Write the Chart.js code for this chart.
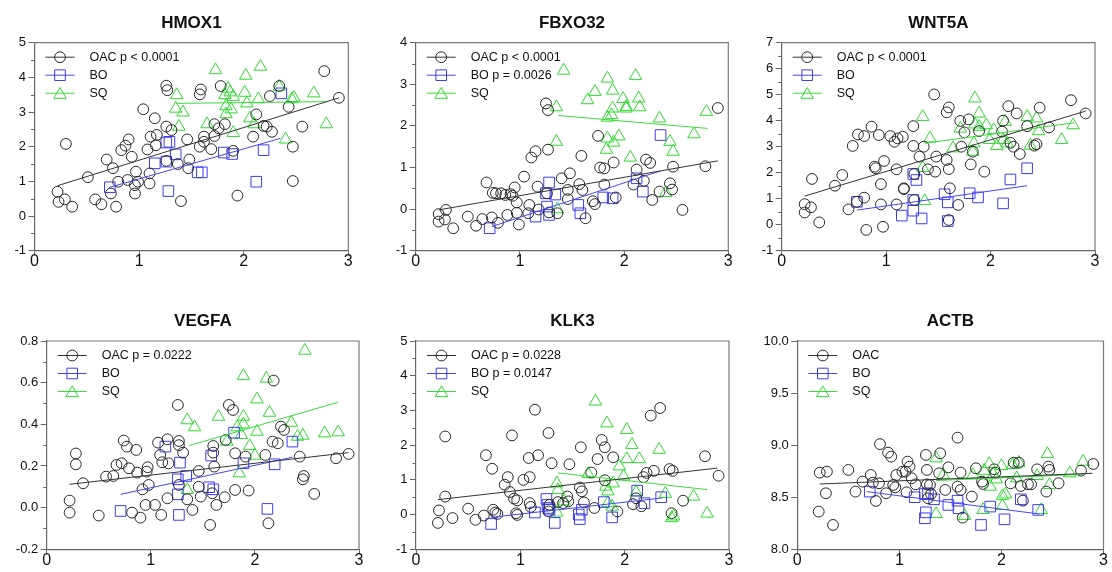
<!DOCTYPE html>
<html><head><meta charset="utf-8">
<script src="https://cdn.jsdelivr.net/npm/chart.js@4.4.1/dist/chart.umd.min.js"></script>
<style>
html,body{margin:0;padding:0;background:#fff;}
#wrap{position:relative;width:1112px;height:572px;overflow:hidden;background:#fff;}
canvas{position:absolute;}
</style></head><body><div id="wrap"></div>
<script>
// ---------------- DATA ----------------
const X_TICKS = [0, 1, 2, 3];
const GROUPS = ['OAC', 'BO', 'SQ'];

// HMOX1
const HMOX1_OAC = [[0.22,0.70],[0.23,0.41],[0.29,0.48],[0.30,2.08],[0.36,0.27],[0.51,1.12],[0.58,0.48],[0.64,0.34],[0.69,1.63],[0.73,0.65],[0.75,1.38],[0.78,0.27],[0.80,0.99],[0.83,1.90],[0.87,2.03],[0.90,2.21],[0.89,1.04],[0.93,1.71],[0.96,0.65],[0.96,0.89],[0.97,1.28],[0.99,0.99],[1.04,3.08],[1.08,1.92],[1.10,0.94],[1.11,2.29],[1.10,1.23],[1.15,2.82],[1.17,2.34],[1.16,2.04],[1.26,3.76],[1.27,3.63],[1.26,2.58],[1.26,1.59],[1.31,2.48],[1.37,1.50],[1.40,0.43],[1.46,2.21],[1.47,1.38],[1.48,1.63],[1.58,3.51],[1.59,3.65],[1.58,2.00],[1.62,2.14],[1.62,2.29],[1.69,1.93],[1.72,2.31],[1.72,2.65],[1.76,2.53],[1.78,3.75],[1.82,2.65],[1.90,1.88],[1.94,0.59],[2.09,2.29],[2.12,2.93],[2.19,2.60],[2.22,2.58],[2.25,3.46],[2.27,2.43],[2.34,3.75],[2.43,3.15],[2.47,1.01],[2.47,2.00],[2.56,2.58],[2.77,4.18],[2.91,3.41]];
const HMOX1_BO = [[0.72,0.83],[1.28,0.72],[1.26,2.12],[1.29,2.14],[1.26,1.57],[1.15,1.52],[1.35,1.78],[1.56,1.26],[1.60,1.26],[1.81,1.83],[1.89,1.79],[2.12,0.99],[2.19,1.90],[2.36,3.54]];
const HMOX1_SQ = [[1.73,4.21],[2.16,4.31],[2.02,4.05],[1.36,3.49],[1.35,3.10],[1.42,2.99],[1.38,2.58],[1.85,3.68],[1.87,3.57],[1.82,3.49],[2.01,3.56],[1.90,3.44],[2.03,3.25],[2.14,3.37],[1.83,3.17],[1.88,3.08],[1.83,2.94],[1.90,2.40],[1.65,2.65],[2.06,2.82],[2.10,2.65],[2.34,3.73],[2.46,3.37],[2.48,3.41],[2.67,3.54],[2.79,2.65],[2.40,2.21]];
const HMOX1_FITS = [[[0.22,0.875],[2.91,3.41]], [[0.71,0.82],[2.35,2.24]], [[1.36,3.25],[2.79,3.30]]];
const HMOX1_LEGEND = ['OAC p < 0.0001', 'BO', 'SQ'];
const HMOX1_YTICKS = [-1, 0, 1, 2, 3, 4, 5];

// FBXO32
const FBXO32_OAC = [[0.22,-0.12],[0.22,-0.30],[0.29,-0.02],[0.28,-0.25],[0.36,-0.46],[0.50,-0.18],[0.58,-0.40],[0.64,-0.24],[0.68,0.64],[0.74,0.39],[0.73,-0.20],[0.77,0.38],[0.79,-0.33],[0.82,0.38],[0.86,0.34],[0.88,-0.14],[0.91,0.36],[0.93,0.32],[0.95,0.52],[0.97,0.16],[0.99,-0.37],[0.97,-0.09],[1.04,0.78],[1.08,-0.10],[1.09,0.10],[1.11,1.24],[1.15,1.39],[1.17,0.54],[1.18,-0.01],[1.25,2.54],[1.27,2.38],[1.27,1.43],[1.26,0.38],[1.28,-0.08],[1.36,-0.10],[1.40,0.74],[1.48,0.86],[1.46,0.46],[1.46,0.24],[1.57,0.60],[1.59,1.28],[1.60,0.46],[1.63,-0.22],[1.70,0.19],[1.72,0.12],[1.75,1.76],[1.77,1.00],[1.81,0.98],[1.81,0.59],[1.90,1.12],[1.92,0.28],[2.09,0.59],[2.12,0.95],[2.19,0.68],[2.21,1.19],[2.25,1.11],[2.27,0.22],[2.34,0.42],[2.44,0.62],[2.46,0.47],[2.47,1.02],[2.56,-0.02],[2.78,1.03],[2.90,2.43]];
const FBXO32_BO = [[0.71,-0.46],[1.15,-0.18],[1.25,0.38],[1.26,0.06],[1.28,-0.14],[1.28,0.64],[1.34,0.35],[1.56,0.10],[1.58,-0.10],[1.80,0.28],[1.89,0.26],[2.12,0.74],[2.18,0.42],[2.35,1.78]];
const FBXO32_SQ = [[1.42,3.33],[1.35,2.45],[1.35,1.62],[1.36,0.00],[1.65,2.62],[1.72,2.82],[1.84,3.14],[1.89,2.85],[1.84,2.20],[1.89,2.42],[1.88,2.26],[1.84,1.70],[1.83,1.43],[1.90,1.60],[1.95,1.75],[1.99,2.65],[2.02,2.46],[2.02,2.42],[2.11,3.20],[2.14,2.66],[2.15,2.45],[2.06,1.24],[2.34,2.18],[2.44,1.62],[2.47,1.38],[2.40,0.39],[2.67,1.80],[2.79,2.34]];
const FBXO32_FITS = [[[0.22,-0.02],[2.90,1.16]], [[0.73,-0.42],[2.35,0.92]], [[1.37,2.25],[2.80,1.94]]];
const FBXO32_LEGEND = ['OAC p < 0.0001', 'BO p = 0.0026', 'SQ'];
const FBXO32_YTICKS = [-1, 0, 1, 2, 3, 4];

// WNT5A
const WNT5A_OAC = [[0.22,0.79],[0.22,0.47],[0.28,0.67],[0.29,1.76],[0.36,0.09],[0.51,1.50],[0.58,1.91],[0.64,0.59],[0.68,3.03],[0.72,0.88],[0.73,3.47],[0.79,1.04],[0.79,3.41],[0.81,-0.20],[0.86,3.77],[0.89,2.23],[0.90,2.17],[0.93,3.45],[0.95,1.56],[0.95,0.78],[0.98,2.45],[0.97,-0.08],[1.04,3.41],[1.08,3.19],[1.11,3.32],[1.16,3.38],[1.10,2.13],[1.10,0.78],[1.17,1.40],[1.17,1.37],[1.26,3.79],[1.26,3.03],[1.27,1.95],[1.27,0.95],[1.32,2.62],[1.36,3.00],[1.40,2.13],[1.47,2.04],[1.48,2.62],[1.46,5.01],[1.58,2.49],[1.58,4.32],[1.60,4.51],[1.60,2.14],[1.61,1.40],[1.60,0.18],[1.69,0.76],[1.71,3.99],[1.72,3.00],[1.75,3.55],[1.79,4.05],[1.81,2.32],[1.83,2.81],[1.89,3.60],[1.94,2.04],[2.12,4.00],[2.11,3.58],[2.17,4.56],[2.19,3.15],[2.22,3.00],[2.25,4.28],[2.28,2.72],[2.35,3.79],[2.42,3.04],[2.44,3.10],[2.47,4.50],[2.56,3.74],[2.77,4.79],[2.91,4.28]];
const WNT5A_BO = [[0.72,0.88],[1.15,0.35],[1.26,0.54],[1.26,0.95],[1.26,1.95],[1.29,1.72],[1.34,0.24],[1.56,1.17],[1.59,0.86],[1.59,0.14],[1.80,1.21],[1.88,1.05],[2.12,0.82],[2.19,1.74],[2.35,2.17]];
const WNT5A_SQ = [[1.35,4.15],[1.42,3.32],[1.35,2.19],[1.37,0.91],[1.64,2.94],[1.71,3.70],[1.85,4.86],[1.89,4.28],[1.84,3.13],[1.83,2.81],[1.85,3.86],[1.89,3.77],[1.96,3.83],[1.99,3.26],[2.03,3.64],[2.06,3.03],[2.12,3.26],[2.14,3.96],[2.16,3.13],[2.35,4.15],[2.44,4.09],[2.46,3.60],[2.38,3.04],[2.68,3.26],[2.79,3.83]];
const WNT5A_FITS = [[[0.22,1.10],[2.91,4.37]], [[0.72,0.56],[2.35,1.50]], [[1.37,3.13],[2.80,3.92]]];
const WNT5A_LEGEND = ['OAC p < 0.0001', 'BO', 'SQ'];
const WNT5A_YTICKS = [-1, 0, 1, 2, 3, 4, 5, 6, 7];

// VEGFA
const VEGFA_OAC = [[0.22,0.034],[0.22,-0.024],[0.28,0.26],[0.28,0.208],[0.35,0.117],[0.50,-0.038],[0.57,0.149],[0.64,0.152],[0.67,0.205],[0.72,0.213],[0.74,0.322],[0.77,0.293],[0.79,0.189],[0.82,-0.024],[0.86,0.277],[0.87,0.168],[0.90,-0.048],[0.92,0.088],[0.95,0.013],[0.96,0.173],[0.97,0.194],[0.98,0.109],[1.04,0.013],[1.07,0.312],[1.09,0.253],[1.10,-0.035],[1.11,0.218],[1.16,0.328],[1.16,0.045],[1.17,0.213],[1.26,0.493],[1.27,0.32],[1.27,0.30],[1.27,0.109],[1.31,0.264],[1.35,0.04],[1.40,-0.011],[1.46,0.176],[1.46,0.10],[1.48,0.053],[1.57,-0.083],[1.59,0.069],[1.60,0.264],[1.60,0.296],[1.61,0.197],[1.63,0.013],[1.71,0.05],[1.72,0.325],[1.75,0.493],[1.79,0.469],[1.81,0.085],[1.81,0.261],[1.91,0.245],[1.94,0.082],[2.10,0.253],[2.13,-0.075],[2.17,0.317],[2.18,0.61],[2.22,0.309],[2.25,0.389],[2.28,0.373],[2.43,0.245],[2.46,0.136],[2.47,0.152],[2.57,0.066],[2.78,0.237],[2.90,0.258]];
const VEGFA_BO = [[0.71,-0.016],[1.14,0.293],[1.28,0.216],[1.26,0.136],[1.26,0.064],[1.27,-0.035],[1.34,0.152],[1.58,0.25],[1.56,0.098],[1.60,0.088],[1.80,0.36],[1.89,0.213],[2.12,-0.006],[2.19,0.208],[2.36,0.317]];
const VEGFA_SQ = [[1.35,0.42],[1.42,0.386],[1.65,0.437],[1.73,0.317],[1.89,0.437],[1.89,0.632],[1.83,0.386],[1.89,0.40],[1.87,0.349],[1.85,0.165],[1.95,0.296],[2.02,0.52],[2.02,0.365],[2.00,0.25],[2.11,0.62],[2.14,0.456],[2.35,0.408],[2.41,0.341],[2.46,0.346],[2.48,0.754],[2.67,0.357],[2.80,0.362],[1.35,0.085]];
const VEGFA_FITS = [[[0.22,0.112],[2.90,0.264]], [[0.71,0.064],[2.36,0.242]], [[1.37,0.298],[2.80,0.506]]];
const VEGFA_LEGEND = ['OAC p = 0.0222', 'BO', 'SQ'];
const VEGFA_YTICKS = [-0.2, 0, 0.2, 0.4, 0.6, 0.8];

// KLK3
const KLK3_OAC = [[0.22,0.12],[0.21,-0.24],[0.28,2.25],[0.28,0.52],[0.35,-0.10],[0.50,0.17],[0.57,-0.15],[0.65,-0.03],[0.67,1.71],[0.73,1.32],[0.74,0.14],[0.76,0.06],[0.78,0.02],[0.85,0.86],[0.88,1.08],[0.90,0.65],[0.92,2.28],[0.94,0.46],[0.96,0.04],[0.97,0.41],[0.97,-0.01],[1.03,1.00],[1.08,1.63],[1.09,1.08],[1.09,0.33],[1.10,0.22],[1.14,3.02],[1.17,1.71],[1.27,2.35],[1.27,0.09],[1.28,0.28],[1.30,1.48],[1.36,0.36],[1.41,0.33],[1.47,1.45],[1.45,0.52],[1.46,0.38],[1.58,1.94],[1.57,0.78],[1.59,0.67],[1.61,0.35],[1.68,1.21],[1.71,0.19],[1.74,1.60],[1.78,2.15],[1.81,0.99],[1.81,1.94],[1.89,1.65],[1.93,0.09],[2.08,0.30],[2.11,0.47],[2.16,0.24],[2.18,1.08],[2.21,1.20],[2.25,2.85],[2.28,1.26],[2.34,3.07],[2.43,1.31],[2.46,1.26],[2.45,0.04],[2.56,0.40],[2.77,1.68],[2.90,1.12]];
const KLK3_BO = [[0.72,-0.27],[1.14,0.06],[1.25,0.45],[1.26,0.28],[1.27,0.19],[1.28,0.14],[1.33,-0.24],[1.56,0.00],[1.57,-0.13],[1.59,0.14],[1.80,0.36],[1.88,-0.08],[2.12,0.69],[2.19,0.33],[2.35,0.50]];
const KLK3_SQ = [[1.35,0.90],[1.36,0.71],[1.35,0.06],[1.42,0.38],[1.65,1.17],[1.72,3.26],[1.83,2.63],[1.82,0.81],[1.84,0.67],[1.84,0.33],[1.89,0.90],[1.88,0.23],[1.95,1.39],[1.99,1.10],[2.02,2.44],[2.02,1.60],[2.07,2.01],[2.11,0.64],[2.14,1.60],[2.33,1.87],[2.39,0.60],[2.45,-0.10],[2.47,-0.05],[2.66,0.52],[2.79,0.03]];
const KLK3_FITS = [[[0.21,0.43],[2.89,1.34]], [[0.72,-0.08],[2.36,0.48]], [[1.36,1.20],[2.79,0.72]]];
const KLK3_LEGEND = ['OAC p = 0.0228', 'BO p = 0.0147', 'SQ'];
const KLK3_YTICKS = [-1, 0, 1, 2, 3, 4, 5];

// ACTB
const ACTB_OAC = [[0.22,8.736],[0.21,8.362],[0.29,8.746],[0.28,8.538],[0.35,8.234],[0.50,8.762],[0.57,8.554],[0.64,8.65],[0.72,8.714],[0.74,8.64],[0.77,8.464],[0.80,8.634],[0.81,9.01],[0.87,8.538],[0.89,8.928],[0.92,8.89],[0.94,8.618],[0.96,8.595],[0.97,8.714],[1.03,8.746],[1.08,8.842],[1.06,8.746],[1.10,8.794],[1.07,8.547],[1.12,8.682],[1.16,8.624],[1.26,8.906],[1.27,8.762],[1.27,8.624],[1.30,8.618],[1.28,8.49],[1.31,8.531],[1.40,8.922],[1.39,8.73],[1.45,8.57],[1.48,8.787],[1.57,9.072],[1.60,8.736],[1.57,8.602],[1.60,8.57],[1.62,8.304],[1.71,8.506],[1.75,8.778],[1.81,8.65],[1.82,8.627],[1.93,8.768],[1.94,8.736],[2.09,8.634],[2.12,8.832],[2.17,8.832],[2.19,8.608],[2.21,8.467],[2.26,8.624],[2.29,8.624],[2.35,8.768],[2.44,8.554],[2.46,8.794],[2.47,8.762],[2.56,8.634],[2.78,8.755],[2.90,8.819]];
const ACTB_BO = [[0.71,8.554],[1.15,8.50],[1.25,8.531],[1.28,8.538],[1.26,8.355],[1.25,8.298],[1.34,8.48],[1.48,8.426],[1.57,8.467],[1.58,8.394],[1.80,8.234],[1.89,8.41],[2.03,8.288],[2.19,8.48],[2.36,8.378]];
const ACTB_SQ = [[1.36,8.874],[1.36,8.339],[1.43,8.714],[1.64,8.32],[1.72,8.714],[1.82,8.378],[1.83,8.755],[1.88,8.819],[1.89,8.602],[1.92,8.72],[1.95,8.672],[2.00,8.80],[2.01,8.512],[2.04,8.528],[2.01,8.416],[2.11,8.81],[2.15,8.682],[2.17,8.832],[2.35,8.704],[2.39,8.378],[2.45,8.915],[2.47,8.618],[2.67,8.73],[2.80,8.842]];
const ACTB_FITS = [[[0.22,8.627],[2.89,8.73]], [[0.68,8.554],[2.37,8.339]], [[1.36,8.66],[2.80,8.72]]];
const ACTB_LEGEND = ['OAC', 'BO', 'SQ'];
const ACTB_YTICKS = [8.0, 8.5, 9.0, 9.5, 10.0];

// ---------------- PANEL SETUP ----------------
const PANELS = [
  {title:'HMOX1',  groups:[HMOX1_OAC, HMOX1_BO, HMOX1_SQ],   fits:HMOX1_FITS,  legend:HMOX1_LEGEND,  yTicks:HMOX1_YTICKS,  minor:0.5, dec:0},
  {title:'FBXO32', groups:[FBXO32_OAC, FBXO32_BO, FBXO32_SQ], fits:FBXO32_FITS, legend:FBXO32_LEGEND, yTicks:FBXO32_YTICKS, minor:0.5, dec:0},
  {title:'WNT5A',  groups:[WNT5A_OAC, WNT5A_BO, WNT5A_SQ],   fits:WNT5A_FITS,  legend:WNT5A_LEGEND,  yTicks:WNT5A_YTICKS,  minor:0.5, dec:0},
  {title:'VEGFA',  groups:[VEGFA_OAC, VEGFA_BO, VEGFA_SQ],   fits:VEGFA_FITS,  legend:VEGFA_LEGEND,  yTicks:VEGFA_YTICKS,  minor:0.1, dec:1},
  {title:'KLK3',   groups:[KLK3_OAC, KLK3_BO, KLK3_SQ],      fits:KLK3_FITS,   legend:KLK3_LEGEND,   yTicks:KLK3_YTICKS,   minor:0.5, dec:0},
  {title:'ACTB',   groups:[ACTB_OAC, ACTB_BO, ACTB_SQ],      fits:ACTB_FITS,   legend:ACTB_LEGEND,   yTicks:ACTB_YTICKS,   minor:0,   dec:1}
];

// layout (page pixels): cell box and plot-area box
const CELLS = [[0,0,370,286],[370,0,370,286],[740,0,372,286],[0,286,370,286],[370,286,370,286],[740,286,372,286]];
const AREAS = [[34.5,42.7,348.3,250.7],[415.7,42.7,728.3,250.7],[781.7,42.7,1095,250.7],[46.7,341,359,549.3],[416,341,729,549.3],[797.3,341,1109.3,549.3]];

const FONT = '"Liberation Sans", Arial, Helvetica, sans-serif';
const COLORS = ['#262626', '#3c3cf2', '#2edb2e'];
const LINECOLORS = ['#333333', '#4545f5', '#38dd38'];
const STYLES = ['circle', 'rect', 'triangle'];
const RADII = [5.4, 7.5, 7.2];
const AXIS = '#666666';
const FRAME = '#7a7a7a';
const XAXIS_H = 24;

function drawMarker(ctx, style, x, y, r) {
  ctx.beginPath();
  if (style === 'circle') {
    ctx.arc(x, y, r, 0, Math.PI * 2);
  } else if (style === 'rect') {
    const s = r * Math.SQRT1_2;
    ctx.rect(x - s, y - s, 2 * s, 2 * s);
  } else {
    const w = r * Math.sin(Math.PI / 3);
    ctx.moveTo(x, y - r);
    ctx.lineTo(x + w, y + r / 2);
    ctx.lineTo(x - w, y + r / 2);
    ctx.closePath();
  }
  ctx.stroke();
}

const decor = {
  id: 'decor',
  beforeDatasetsDraw(chart) {
    const o = chart.options.plugins.decor;
    const {ctx, chartArea: a} = chart;
    const ys = chart.scales.y;
    ctx.save();
    ctx.strokeStyle = FRAME; ctx.lineWidth = 1.2;
    ctx.beginPath();
    ctx.moveTo(a.left, a.top); ctx.lineTo(a.right, a.top); ctx.lineTo(a.right, a.bottom);
    ctx.stroke();
    if (o.minor) {
      ctx.strokeStyle = AXIS; ctx.lineWidth = 1;
      const n = Math.round((ys.max - ys.min) / o.minor);
      for (let i = 0; i <= n; i++) {
        const v = ys.min + i * o.minor;
        if (o.yTicks.some(t => Math.abs(t - v) < 1e-6)) continue;
        const py = Math.round(ys.getPixelForValue(v)) + 0.5;
        ctx.beginPath(); ctx.moveTo(a.left - 3.5, py); ctx.lineTo(a.left, py); ctx.stroke();
      }
    }
    ctx.restore();
  },
  afterDraw(chart) {
    const o = chart.options.plugins.decor;
    const {ctx, chartArea: a} = chart;
    ctx.save();
    ctx.fillStyle = '#111';
    ctx.font = 'bold 17px ' + FONT;
    ctx.textAlign = 'center'; ctx.textBaseline = 'middle';
    ctx.fillText(o.title, (a.left + a.right) / 2, a.top - 19.5);
    ctx.font = '12.5px ' + FONT;
    ctx.textAlign = 'left';
    o.legend.forEach((label, i) => {
      const y = a.top + 14.5 + i * 18;
      ctx.strokeStyle = LINECOLORS[i]; ctx.lineWidth = 1;
      ctx.beginPath(); ctx.moveTo(a.left + 11, y); ctx.lineTo(a.left + 40, y); ctx.stroke();
      ctx.strokeStyle = COLORS[i];
      drawMarker(ctx, STYLES[i], a.left + 25.5, y + (STYLES[i] === 'triangle' ? 1.5 : 0), RADII[i]);
      ctx.fillStyle = '#111';
      ctx.fillText(label, a.left + 55, y + 0.5);
    });
    ctx.restore();
  }
};

const toPts = arr => arr.map(([x, y]) => ({x, y}));
const wrap = document.getElementById('wrap');

PANELS.forEach((p, idx) => {
  const [cx, cy, cw, ch] = CELLS[idx];
  const [L, T, R, B] = AREAS[idx];
  const cv = document.createElement('canvas');
  cv.width = cw; cv.height = ch;
  cv.style.left = cx + 'px'; cv.style.top = cy + 'px';
  cv.style.width = cw + 'px'; cv.style.height = ch + 'px';
  wrap.appendChild(cv);

  const datasets = [];
  p.fits.forEach((f, i) => {
    datasets.push({type: 'line', label: GROUPS[i] + ' fit', data: toPts(f), showLine: true,
      borderColor: LINECOLORS[i], borderWidth: 1, pointRadius: 0, fill: false, order: 0});
  });
  p.groups.forEach((g, i) => {
    datasets.push({label: GROUPS[i], data: toPts(g), pointStyle: STYLES[i], pointRadius: RADII[i],
      borderColor: COLORS[i], backgroundColor: 'rgba(0,0,0,0)', borderWidth: 1, showLine: false, order: 1});
  });

  const yMin = p.yTicks[0], yMax = p.yTicks[p.yTicks.length - 1];

  new Chart(cv, {
    type: 'scatter',
    data: {datasets},
    plugins: [decor],
    options: {
      responsive: false, animation: false, events: [],
      devicePixelRatio: 1,
      layout: {padding: {left: 0, top: T - cy, right: cx + cw - R, bottom: cy + ch - B - XAXIS_H}},
      plugins: {
        legend: {display: false}, tooltip: {enabled: false}, title: {display: false},
        decor: {title: p.title, legend: p.legend, minor: p.minor, yTicks: p.yTicks}
      },
      scales: {
        x: {
          type: 'linear', min: X_TICKS[0], max: X_TICKS[X_TICKS.length - 1],
          afterBuildTicks: s => { s.ticks = X_TICKS.map(v => ({value: v})); },
          afterFit: s => { s.height = XAXIS_H; s.paddingLeft = 0; s.paddingRight = 0; },
          ticks: {font: {family: FONT, size: 16, lineHeight: 1}, color: '#111', padding: -2, maxRotation: 0, autoSkip: false,
                  callback: v => String(v)},
          grid: {drawOnChartArea: false, tickLength: 5, color: AXIS, lineWidth: 1},
          border: {display: true, color: AXIS, width: 1.2}
        },
        y: {
          type: 'linear', min: yMin, max: yMax,
          afterBuildTicks: s => { s.ticks = p.yTicks.map(v => ({value: v})); },
          afterFit: s => { s.width = L - cx; s.paddingTop = 0; s.paddingBottom = 0; },
          ticks: {font: {family: FONT, size: 13}, color: '#111', padding: 2.5, autoSkip: false,
                  callback: v => Number(v).toFixed(p.dec)},
          grid: {drawOnChartArea: false, tickLength: 6, color: AXIS, lineWidth: 1},
          border: {display: true, color: AXIS, width: 1.2}
        }
      }
    }
  });
});
</script>
</body></html>
